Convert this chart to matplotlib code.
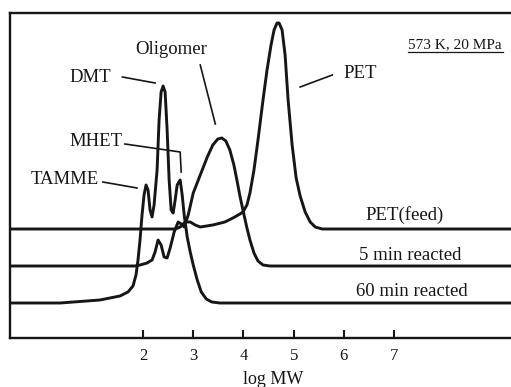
import matplotlib
matplotlib.use("Agg")
import matplotlib.pyplot as plt

plt.rcParams['font.family'] = ['Liberation Serif', 'DejaVu Serif']

# chromatograms: x = log MW, y = detector signal (arb. units)
feed_logmw = [-0.8, 2.64, 2.74, 2.84, 2.94, 3.04, 3.14, 3.39, 3.63, 3.79, 3.93, 3.99,
              4.07, 4.13, 4.21, 4.29, 4.39, 4.47, 4.55, 4.61, 4.67, 4.71, 4.77, 4.83,
              4.89, 4.97, 5.05, 5.13, 5.23, 5.33, 5.43, 5.57, 9.6]
feed_signal = [109, 109, 111, 116, 116, 113, 111, 113, 116, 120, 124, 126,
               133, 145, 168, 198, 238, 268, 293, 308, 315, 315, 308, 283,
               238, 193, 160, 142, 126, 116, 111, 109, 109]

min5_logmw = [-0.8, 1.84, 1.94, 2.08, 2.18, 2.24, 2.30, 2.36, 2.42, 2.48, 2.54, 2.62,
              2.70, 2.76, 2.82, 2.90, 3.00, 3.14, 3.28, 3.39, 3.49, 3.57, 3.65, 3.73,
              3.81, 3.87, 3.93, 3.99, 4.07, 4.13, 4.21, 4.29, 4.39, 4.53, 9.6]
min5_signal = [72, 72, 73, 75, 78, 86, 98, 93, 81, 80, 90, 106,
               116, 114, 111, 123, 145, 163, 181, 193, 199, 200, 197, 188,
               173, 158, 142, 128, 110, 98, 85, 77, 73, 72, 72]

min60_logmw = [-0.8, 0.35, 1.14, 1.54, 1.70, 1.80, 1.86, 1.90, 1.94, 1.98, 2.02, 2.06,
               2.10, 2.14, 2.18, 2.22, 2.28, 2.32, 2.36, 2.40, 2.44, 2.48, 2.52, 2.56,
               2.60, 2.64, 2.68, 2.74, 2.78, 2.82, 2.88, 2.94, 3.00, 3.08, 3.16, 3.26,
               3.37, 3.53, 9.6]
min60_signal = [35, 35, 38, 42, 46, 52, 63, 78, 98, 123, 143, 153,
                148, 128, 121, 133, 168, 218, 246, 252, 246, 208, 158, 128,
                125, 138, 153, 158, 143, 123, 101, 86, 73, 58, 46, 39,
                36, 35, 35]

xticks = [2, 3, 4, 5, 6, 7]

ink = '#161616'

fig = plt.figure(figsize=(5.11, 3.87), dpi=100)
ax = fig.add_axes([10 / 511, 49 / 387, 1 - 10 / 511, 325 / 387])

for xs, ys in [(feed_logmw, feed_signal), (min5_logmw, min5_signal), (min60_logmw, min60_signal)]:
    ax.plot(xs, ys, color=ink, lw=2.1, solid_joinstyle='round', solid_capstyle='round')

ax.set_xlim(-0.65, 9.33)
ax.set_ylim(0, 325)
ax.set_xticks(xticks)
ax.set_xticklabels([str(t) for t in xticks])
ax.set_yticks([])
ax.tick_params(axis='x', direction='in', length=6, width=1.5, pad=7, labelsize=12, color=ink, labelcolor=ink)
for side in ['left', 'top', 'bottom']:
    ax.spines[side].set_linewidth(1.7)
    ax.spines[side].set_color(ink)
ax.spines['right'].set_visible(False)

# peak labels and leader lines
txt = dict(fontsize=13.5, color=ink, ha='center', va='center')
ax.text(2.56, 288, 'Oligomer', **txt)
ax.text(0.95, 261, 'DMT', **txt)
ax.text(1.06, 196, 'MHET', **txt)
ax.text(0.45, 158, 'TAMME', **txt)
ax.text(6.32, 265, 'PET', **txt)

lk = dict(color=ink, lw=1.2)
ax.plot([1.59, 2.24], [261, 255], **lk)
ax.plot([3.14, 3.44], [273, 214], **lk)
ax.plot([1.64, 2.74, 2.76], [194, 186, 166], **lk)
ax.plot([1.20, 1.88], [156, 150], **lk)
ax.plot([5.13, 5.77], [251, 263], **lk)

# condition and curve labels
ax.text(8.22, 293, '573 K, 20 MPa', fontsize=11, color=ink, ha='center', va='center')
ax.plot([7.27, 9.18], [286, 286], color=ink, lw=0.9)
ax.text(7.22, 123, 'PET(feed)', **txt)
ax.text(7.32, 82, '5 min reacted', **txt)
ax.text(7.36, 46, '60 min reacted', **txt)

fig.text(273 / 511, 1 - 380 / 387, 'log MW', fontsize=13, color=ink, ha='center', va='center')

fig.savefig('out.png', dpi=100)
